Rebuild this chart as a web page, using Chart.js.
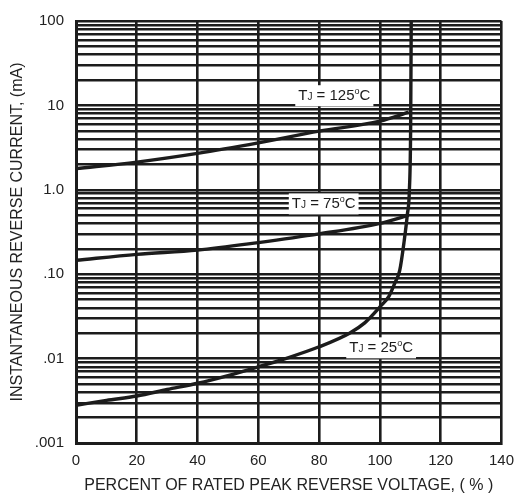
<!DOCTYPE html>
<html>
<head>
<meta charset="utf-8">
<script src="https://cdn.jsdelivr.net/npm/chart.js@4/dist/chart.umd.min.js"></script>
<style>
  html, body { margin: 0; padding: 0; background: #fff; }
  #wrap { width: 523px; height: 497px; }
</style>
</head>
<body>
<div id="wrap"><canvas id="chart" width="523" height="497"></canvas></div>
<script>
// ── data ──────────────────────────────────────────────────────────────────────
const X_TICKS = [0, 20, 40, 60, 80, 100, 120, 140];
const Y_DECADES = [0.001, 0.01, 0.1, 1, 10, 100];
const Y_DECADE_LABELS = [".001", ".01", ".10", "1.0", "10", "100"];

const T125_X = [0, 20, 40, 60, 80, 100, 109.5];
const T125_Y = [1.78, 2.13, 2.7, 3.6, 4.95, 6.5, 8.3];

const T75_X = [0, 20, 40, 60, 80, 100, 109.5];
const T75_Y = [0.146, 0.172, 0.193, 0.237, 0.3, 0.4, 0.5];

const T25_X = [0, 10, 20, 30, 40, 50, 60, 70, 80, 90, 95, 100, 103, 105, 106.5, 108, 109, 109.7, 110.1, 110.3];
const T25_Y = [0.0028, 0.0032, 0.0036, 0.0043, 0.0051, 0.0063, 0.008, 0.0103, 0.0138, 0.02, 0.0265, 0.041, 0.055, 0.08, 0.11, 0.25, 0.5, 1.0, 5, 100];

const LABELS = [
  { x: 85, y: 13.2, temp: "125" },
  { x: 81.5, y: 0.69, temp: "75" },
  { x: 100.4, y: 0.0136, temp: "25" },
];

const INK = "#1c1c1c";
const FONT = "'Liberation Sans', Arial, sans-serif";

// all horizontal grid values: 1..9 x every decade, plus the top
const yGrid = [];
Y_DECADES.slice(0, -1).forEach(d => {
  for (let m = 1; m <= 9; m++) yGrid.push(+(d * m).toPrecision(3));
});
yGrid.push(100);

const toPoints = (xs, ys) => xs.map((x, i) => ({ x, y: ys[i] }));

const curve = (label, xs, ys) => ({
  label,
  data: toPoints(xs, ys),
  borderColor: INK,
  borderWidth: 3.4,
  pointRadius: 0,
  fill: false,
  cubicInterpolationMode: "monotone",
});

// ── white-boxed T_J labels ────────────────────────────────────────────────────
const tempLabels = {
  id: "tempLabels",
  afterDatasetsDraw(chart) {
    const { ctx, scales } = chart;
    ctx.save();
    ctx.textBaseline = "alphabetic";
    LABELS.forEach(l => {
      const cx = scales.x.getPixelForValue(l.x);
      const cy = scales.y.getPixelForValue(l.y);
      const parts = [
        { t: "T", f: `15px ${FONT}`, dy: 0 },
        { t: "J", f: `10px ${FONT}`, dy: 0 },
        { t: " = " + l.temp, f: `15px ${FONT}`, dy: 0 },
        { t: "o", f: `9px ${FONT}`, dy: -6 },
        { t: "C", f: `15px ${FONT}`, dy: 0 },
      ];
      let w = 0;
      parts.forEach(p => { ctx.font = p.f; p.w = ctx.measureText(p.t).width; w += p.w; });
      ctx.fillStyle = "#fff";
      ctx.fillRect(cx - w / 2 - 3, cy - 10, w + 6, 21);
      ctx.fillStyle = INK;
      let x = cx - w / 2;
      const base = cy + 5;
      parts.forEach(p => {
        ctx.font = p.f;
        ctx.fillText(p.t, x, base + p.dy);
        x += p.w;
      });
    });
    ctx.restore();
  },
};

const whiteBg = {
  id: "whiteBg",
  beforeDraw(chart) {
    const { ctx, width, height } = chart;
    ctx.save();
    ctx.fillStyle = "#fff";
    ctx.fillRect(0, 0, width, height);
    ctx.restore();
  },
};

new Chart(document.getElementById("chart"), {
  type: "line",
  data: {
    datasets: [
      curve("TJ = 125°C", T125_X, T125_Y),
      curve("TJ = 75°C", T75_X, T75_Y),
      curve("TJ = 25°C", T25_X, T25_Y),
    ],
  },
  options: {
    responsive: false,
    animation: false,
    devicePixelRatio: 1,
    layout: { padding: { left: 0, right: 19, top: 10, bottom: 0 } },
    plugins: { legend: { display: false }, tooltip: { enabled: false } },
    scales: {
      x: {
        type: "linear",
        min: 0,
        max: 140,
        afterBuildTicks: s => { s.ticks = X_TICKS.map(v => ({ value: v })); },
        afterFit: s => { s.height = 54; },
        grid: { color: INK, lineWidth: 2.6, drawTicks: false },
        border: { color: INK, width: 3 },
        ticks: { color: "#222", padding: 9, font: { family: FONT, size: 15 } },
        title: {
          display: true,
          text: "PERCENT OF RATED PEAK REVERSE VOLTAGE, ( % )",
          color: "#222",
          padding: { top: 0, bottom: 2 },
          font: { family: FONT, size: 16 },
        },
      },
      y: {
        type: "logarithmic",
        min: 0.001,
        max: 100,
        afterBuildTicks: s => { s.ticks = yGrid.map(v => ({ value: v })); },
        afterFit: s => { s.width = 76; },
        grid: { color: INK, lineWidth: 2.4, drawTicks: false },
        border: { color: INK, width: 3 },
        ticks: {
          autoSkip: false,
          color: "#222",
          padding: 12,
          font: { family: FONT, size: 15 },
          callback: v => {
            const i = Y_DECADES.findIndex(d => Math.abs(d - v) / d < 1e-6);
            return i >= 0 ? Y_DECADE_LABELS[i] : "";
          },
        },
        title: {
          display: true,
          text: "INSTANTANEOUS REVERSE CURRENT, (mA)",
          color: "#222",
          padding: { top: 8, bottom: 0 },
          font: { family: FONT, size: 16 },
        },
      },
    },
  },
  plugins: [whiteBg, tempLabels],
});
</script>
</body>
</html>
